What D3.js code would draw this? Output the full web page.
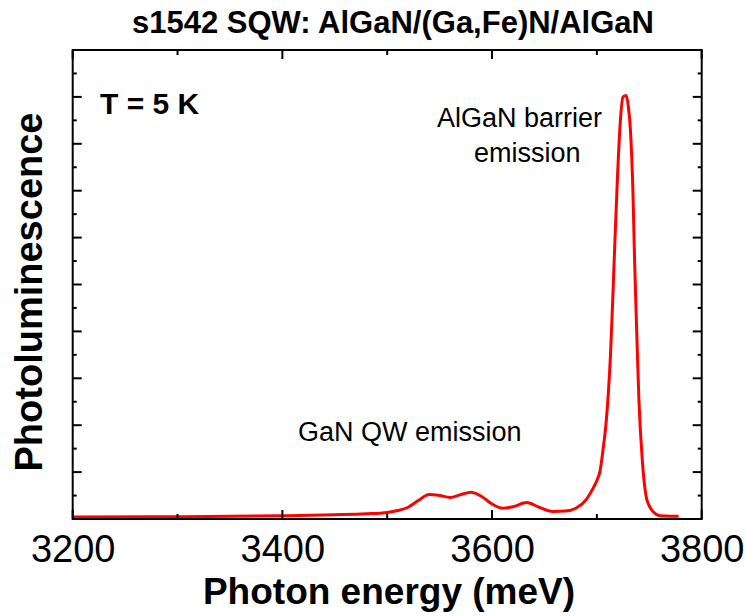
<!DOCTYPE html>
<html>
<head>
<meta charset="utf-8">
<script src="https://cdn.jsdelivr.net/npm/d3@7"></script>
<style>
  html, body { margin: 0; padding: 0; background: #fff; }
  svg { display: block; font-family: "Liberation Sans", Arial, sans-serif; }
</style>
</head>
<body>
<svg id="chart" width="745" height="616"></svg>
<script>
// Photoluminescence spectrum, T = 5 K (energy in meV, intensity in arbitrary units)
const energy = [3200, 3300, 3400, 3450, 3480, 3500, 3510, 3520, 3530, 3540, 3550, 3560,
  3570, 3580, 3590, 3600, 3610, 3620, 3633, 3645, 3658, 3670, 3680, 3690, 3695, 3700,
  3703, 3706, 3709, 3711, 3713, 3715, 3717, 3719.5, 3722, 3725, 3728, 3730, 3732, 3734.5,
  3736, 3738, 3740, 3743.5, 3747, 3750, 3754, 3760, 3770, 3778];
const intensity = [0.04, 0.05, 0.07, 0.09, 0.11, 0.14, 0.18, 0.25, 0.40, 0.52, 0.50, 0.46,
  0.52, 0.57, 0.48, 0.32, 0.23, 0.26, 0.35, 0.25, 0.16, 0.17, 0.23, 0.42, 0.60, 0.82,
  1.02, 1.50, 2.10, 2.70, 3.50, 4.60, 5.80, 7.20, 8.35, 9.00, 9.03, 8.80, 8.30, 6.90,
  5.50, 4.00, 2.60, 1.20, 0.48, 0.28, 0.15, 0.07, 0.06, 0.06];
const xTickLabels = [3200, 3400, 3600, 3800];
const xTicksAll = [3200, 3300, 3400, 3500, 3600, 3700, 3800];
const yTicksAll = [0, 0.5, 1, 1.5, 2, 2.5, 3, 3.5, 4, 4.5, 5, 5.5, 6, 6.5, 7, 7.5, 8, 8.5, 9, 9.5, 10];

const svg = d3.select("#chart");
const plotL = 72.7, plotR = 701.7, plotT = 50, plotB = 519;

const x = d3.scaleLinear().domain([3200, 3800]).range([plotL, plotR]);
const y = d3.scaleLinear().domain([0, 10]).range([plotB, plotT]);

// spectrum line
const pts = energy.map((e, i) => [e, intensity[i]]);
svg.append("path")
  .datum(pts)
  .attr("fill", "none")
  .attr("stroke", "#ff0000")
  .attr("stroke-width", 3)
  .attr("stroke-linejoin", "round")
  .attr("d", d3.line().x(d => x(d[0])).y(d => y(d[1])).curve(d3.curveMonotoneX));

// inward ticks on all four sides
const isMajorX = v => v % 200 === 0;
const isMajorY = v => Number.isInteger(v);
const ticks = svg.append("g").attr("stroke", "#000").attr("stroke-width", 2);
xTicksAll.forEach(v => {
  const len = isMajorX(v) ? 9 : 5;
  ticks.append("line").attr("x1", x(v)).attr("x2", x(v)).attr("y1", plotB).attr("y2", plotB - len);
  ticks.append("line").attr("x1", x(v)).attr("x2", x(v)).attr("y1", plotT).attr("y2", plotT + len);
});
yTicksAll.forEach(v => {
  const len = isMajorY(v) ? 9 : 4;
  ticks.append("line").attr("x1", plotL).attr("x2", plotL + len).attr("y1", y(v)).attr("y2", y(v));
  ticks.append("line").attr("x1", plotR).attr("x2", plotR - len).attr("y1", y(v)).attr("y2", y(v));
});

// frame
svg.append("rect")
  .attr("x", plotL).attr("y", plotT)
  .attr("width", plotR - plotL).attr("height", plotB - plotT)
  .attr("fill", "none").attr("stroke", "#000").attr("stroke-width", 2);

// x tick labels via axis generator (tick lines hidden, drawn above)
const xAxis = d3.axisBottom(x).tickValues(xTickLabels).tickSize(0).tickPadding(0).tickFormat(d3.format("d"));
const gx = svg.append("g").attr("transform", `translate(0,${plotB})`).call(xAxis);
gx.select(".domain").remove();
gx.selectAll("text")
  .attr("dy", null).attr("y", 43)
  .attr("font-size", 38).attr("font-family", "'Liberation Sans', Arial, sans-serif")
  .attr("fill", "#000");

// titles and annotations
svg.append("text").attr("x", 393).attr("y", 33).attr("text-anchor", "middle")
  .attr("font-size", 31).attr("font-weight", "bold").text("s1542 SQW: AlGaN/(Ga,Fe)N/AlGaN");
svg.append("text").attr("x", 389).attr("y", 604).attr("text-anchor", "middle")
  .attr("font-size", 37).attr("font-weight", "bold").text("Photon energy (meV)");
svg.append("text").attr("transform", "translate(42,292) rotate(-90)").attr("text-anchor", "middle")
  .attr("font-size", 38).attr("font-weight", "bold").text("Photoluminescence");
svg.append("text").attr("x", 100).attr("y", 114)
  .attr("font-size", 30).attr("font-weight", "bold").text("T = 5 K");
svg.append("text").attr("x", 437).attr("y", 127).attr("font-size", 27).text("AlGaN barrier");
svg.append("text").attr("x", 474).attr("y", 162).attr("font-size", 27).text("emission");
svg.append("text").attr("x", 298).attr("y", 441).attr("font-size", 27).text("GaN QW emission");
</script>
</body>
</html>
